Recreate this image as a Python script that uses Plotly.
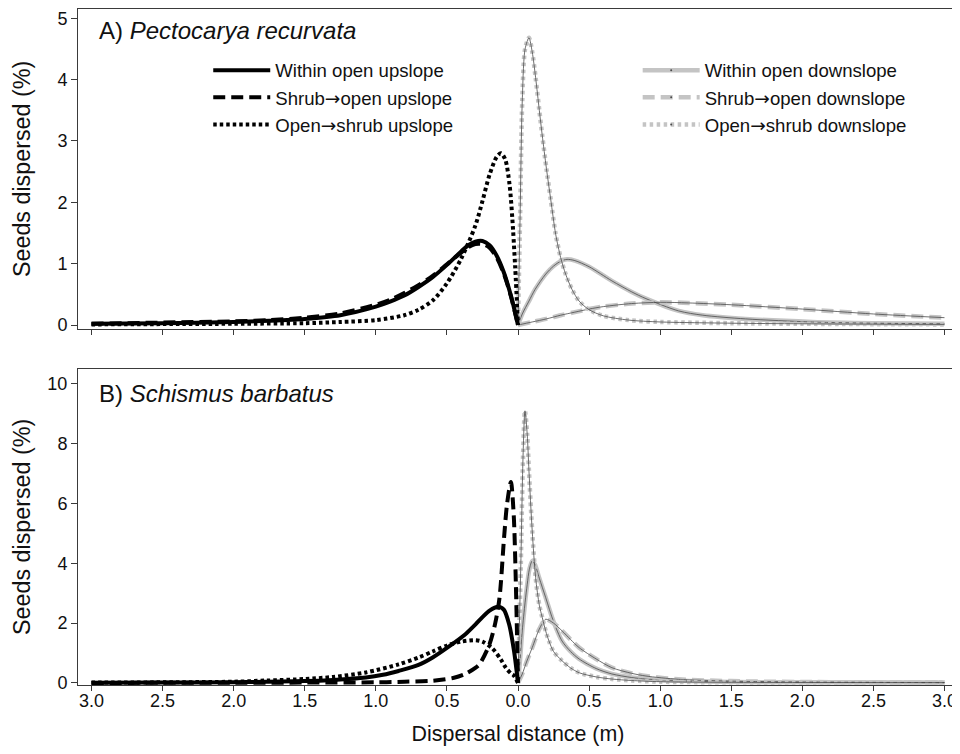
import plotly.graph_objects as go

# ---------------- data ----------------
# Panel A: Pectocarya recurvata  (upslope distances plotted as negative x)
A_within_up_x = [-3.0, -2.5, -2.0, -1.75, -1.5, -1.25, -1.0, -0.9, -0.8, -0.7, -0.6, -0.5, -0.4, -0.35, -0.3, -0.25, -0.2, -0.15, -0.1, -0.05, -0.02, 0.0]
A_within_up_y = [0.02, 0.03, 0.05, 0.07, 0.10, 0.16, 0.30, 0.38, 0.48, 0.62, 0.78, 0.98, 1.20, 1.30, 1.36, 1.37, 1.30, 1.13, 0.86, 0.48, 0.20, 0.0]
A_shrub_up_x = A_within_up_x
A_shrub_up_y = [0.02, 0.04, 0.06, 0.08, 0.12, 0.19, 0.33, 0.41, 0.52, 0.65, 0.80, 0.99, 1.18, 1.27, 1.32, 1.32, 1.26, 1.10, 0.84, 0.47, 0.19, 0.0]
A_open_up_x = [-3.0, -2.5, -2.0, -1.5, -1.25, -1.0, -0.8, -0.7, -0.6, -0.5, -0.4, -0.3, -0.25, -0.2, -0.15, -0.12, -0.09, -0.06, -0.04, -0.02, 0.0]
A_open_up_y = [0.01, 0.015, 0.02, 0.03, 0.05, 0.08, 0.16, 0.25, 0.40, 0.68, 1.08, 1.62, 2.02, 2.45, 2.74, 2.80, 2.70, 2.30, 1.74, 0.95, 0.0]

A_within_down_x = [0.0, 0.03, 0.077, 0.12, 0.195, 0.25, 0.3, 0.345, 0.4, 0.5, 0.66, 0.8, 0.9, 1.13, 1.3, 1.6, 2.07, 2.5, 3.0]
A_within_down_y = [0.0, 0.18, 0.39, 0.58, 0.83, 0.96, 1.04, 1.07, 1.05, 0.95, 0.72, 0.54, 0.43, 0.23, 0.16, 0.10, 0.05, 0.03, 0.02]
A_shrub_down_x = [0.0, 0.1, 0.2, 0.3, 0.4, 0.5, 0.6, 0.8, 1.0, 1.2, 1.5, 2.0, 2.5, 3.0]
A_shrub_down_y = [0.0, 0.05, 0.10, 0.16, 0.21, 0.26, 0.30, 0.35, 0.37, 0.36, 0.33, 0.26, 0.18, 0.12]
A_open_down_x = [0.0, 0.015, 0.03, 0.05, 0.077, 0.1, 0.124, 0.15, 0.17, 0.2, 0.23, 0.265, 0.3, 0.335, 0.38, 0.43, 0.5, 0.6, 0.78, 1.0, 1.5, 2.0, 3.0]
A_open_down_y = [0.0, 1.8, 3.65, 4.5, 4.68, 4.45, 4.03, 3.5, 3.1, 2.55, 2.05, 1.48, 1.10, 0.83, 0.58, 0.39, 0.25, 0.15, 0.08, 0.05, 0.03, 0.02, 0.01]

# Panel B: Schismus barbatus
B_within_up_x = [-3.0, -2.5, -2.0, -1.77, -1.5, -1.3, -1.07, -0.95, -0.84, -0.7, -0.6, -0.5, -0.37, -0.3, -0.25, -0.2, -0.14, -0.1, -0.063, -0.028, 0.0]
B_within_up_y = [0.005, 0.01, 0.02, 0.04, 0.06, 0.10, 0.18, 0.27, 0.40, 0.60, 0.85, 1.17, 1.63, 1.95, 2.20, 2.42, 2.55, 2.45, 1.97, 1.07, 0.0]
B_shrub_up_x = [-3.0, -2.0, -1.5, -1.0, -0.8, -0.6, -0.45, -0.37, -0.3, -0.27, -0.2, -0.16, -0.13, -0.098, -0.077, -0.05, -0.03, -0.015, 0.0]
B_shrub_up_y = [0.0, 0.005, 0.01, 0.02, 0.04, 0.07, 0.17, 0.30, 0.50, 0.63, 1.30, 2.00, 2.85, 4.86, 5.98, 6.72, 5.60, 3.30, 0.0]
B_open_up_x = [-3.0, -2.5, -2.0, -1.77, -1.5, -1.3, -1.07, -0.84, -0.7, -0.6, -0.5, -0.4, -0.3, -0.25, -0.18, -0.12, -0.085, -0.05, -0.03, 0.0]
B_open_up_y = [0.01, 0.02, 0.04, 0.08, 0.13, 0.20, 0.35, 0.62, 0.85, 1.05, 1.25, 1.38, 1.43, 1.38, 1.15, 0.78, 0.50, 0.32, 0.25, 0.0]

B_within_down_x = [0.0, 0.015, 0.03, 0.05, 0.065, 0.08, 0.1, 0.12, 0.15, 0.195, 0.25, 0.31, 0.37, 0.43, 0.55, 0.66, 0.8, 0.9, 1.2, 1.5, 2.0, 3.0]
B_within_down_y = [0.0, 0.8, 1.74, 2.7, 3.3, 3.8, 4.08, 3.95, 3.5, 2.85, 2.05, 1.40, 1.05, 0.80, 0.48, 0.30, 0.18, 0.13, 0.06, 0.03, 0.02, 0.01]
B_shrub_down_x = [0.0, 0.03, 0.06, 0.1, 0.15, 0.195, 0.25, 0.31, 0.37, 0.43, 0.55, 0.66, 0.8, 0.9, 1.13, 1.5, 2.0, 3.0]
B_shrub_down_y = [0.0, 0.30, 0.70, 1.18, 1.80, 2.13, 2.00, 1.74, 1.45, 1.18, 0.80, 0.51, 0.32, 0.23, 0.12, 0.06, 0.03, 0.01]
B_open_down_x = [0.0, 0.01, 0.02, 0.035, 0.049, 0.065, 0.077, 0.1, 0.124, 0.15, 0.171, 0.2, 0.218, 0.25, 0.31, 0.37, 0.43, 0.55, 0.66, 0.8, 1.0, 1.5, 3.0]
B_open_down_y = [0.0, 2.0, 4.0, 7.5, 9.1, 8.3, 7.1, 5.08, 3.52, 2.6, 2.18, 1.65, 1.40, 1.05, 0.74, 0.50, 0.34, 0.20, 0.13, 0.08, 0.04, 0.02, 0.01]

up_names = ["Within open upslope", "Shrub\u2192open upslope", "Open\u2192shrub upslope"]
down_names = ["Within open downslope", "Shrub\u2192open downslope", "Open\u2192shrub downslope"]
x_tick_vals = [-3.0, -2.5, -2.0, -1.5, -1.0, -0.5, 0.0, 0.5, 1.0, 1.5, 2.0, 2.5, 3.0]
x_tick_text = ["3.0", "2.5", "2.0", "1.5", "1.0", "0.5", "0.0", "0.5", "1.0", "1.5", "2.0", "2.5", "3.0"]
panel_labels = ["A) <i>Pectocarya recurvata</i>", "B) <i>Schismus barbatus</i>"]
y_title = "Seeds dispersed (%)"
x_title = "Dispersal distance (m)"

# ---------------- styling ----------------
FONT = "Liberation Sans, Arial, Helvetica, sans-serif"
BLACK = "#000000"
GREY = "#c4c4c4"
THIN = "#4a4a4a"
AX = "#3a3a3a"
TXT = "#111111"
up_dash = ["solid", "12px,6px", "3.5px,3px"]
down_dash = ["solid", "12px,6px", "3.5px,3.5px"]


def arrow_text(s):
    return s.replace("\u2192", "<span style='font-family:DejaVu Sans'>\u2192</span>")


fig = go.Figure()

panels = [
    ("x", "y", [(A_within_up_x, A_within_up_y), (A_shrub_up_x, A_shrub_up_y), (A_open_up_x, A_open_up_y)],
     [(A_within_down_x, A_within_down_y), (A_shrub_down_x, A_shrub_down_y), (A_open_down_x, A_open_down_y)]),
    ("x2", "y2", [(B_within_up_x, B_within_up_y), (B_shrub_up_x, B_shrub_up_y), (B_open_up_x, B_open_up_y)],
     [(B_within_down_x, B_within_down_y), (B_shrub_down_x, B_shrub_down_y), (B_open_down_x, B_open_down_y)]),
]

for xa, ya, ups, downs in panels:
    for (xs, ys), d in zip(downs, down_dash):
        fig.add_trace(go.Scatter(x=xs, y=ys, xaxis=xa, yaxis=ya, mode="lines", showlegend=False,
                                 line=dict(color=GREY, width=4.5, dash=d, shape="spline", smoothing=0.8),
                                 hoverinfo="skip"))
        fig.add_trace(go.Scatter(x=xs, y=ys, xaxis=xa, yaxis=ya, mode="lines", showlegend=False,
                                 line=dict(color=THIN, width=0.8, shape="spline", smoothing=0.8),
                                 hoverinfo="skip"))
    for (xs, ys), d in zip(ups, up_dash):
        fig.add_trace(go.Scatter(x=xs, y=ys, xaxis=xa, yaxis=ya, mode="lines", showlegend=False,
                                 line=dict(color=BLACK, width=4, dash=d, shape="spline", smoothing=0.8),
                                 hoverinfo="skip"))

# legend-only entries
for name, d in zip(up_names, up_dash):
    fig.add_trace(go.Scatter(x=[None], y=[None], xaxis="x", yaxis="y", mode="lines", name=arrow_text(name),
                             legend="legend", line=dict(color=BLACK, width=4, dash=d)))
for name, d in zip(down_names, down_dash):
    fig.add_trace(go.Scatter(x=[None], y=[None], xaxis="x", yaxis="y", mode="lines+markers", name=arrow_text(name),
                             legend="legend2", line=dict(color=GREY, width=4.5, dash=d),
                             marker=dict(color=THIN, size=2)))

XR = [-3.095, 3.095]
A_dom = [0.5266, 1.0]
B_dom = [0.0, 0.4675]
A_rng = [-0.065, 5.15]
B_rng = [-0.07, 10.5]

common_x = dict(range=XR, tickmode="array", tickvals=x_tick_vals, ticktext=x_tick_text,
                showgrid=False, zeroline=False, showline=True, linecolor=AX, linewidth=1,
                mirror=True, ticks="outside", ticklen=5, tickcolor=AX,
                tickfont=dict(family=FONT, size=18, color=TXT))
common_y = dict(showgrid=False, zeroline=False, showline=True, linecolor=AX, linewidth=1,
                mirror=True, ticks="outside", ticklen=6, tickcolor=AX,
                tickfont=dict(family=FONT, size=18, color=TXT))

free_common = dict(anchor="free", position=0.5, showticklabels=False, showgrid=False, zeroline=False,
                   tickcolor=AX, ticklen=4)

fig.update_layout(
    xaxis=dict(common_x, anchor="y", showticklabels=False),
    yaxis=dict(common_y, domain=A_dom, range=A_rng, dtick=1, tick0=0, anchor="x"),
    xaxis2=dict(common_x, anchor="y2", ticklabelstandoff=-6,
                title=dict(text=x_title, font=dict(family=FONT, size=21.4, color=TXT), standoff=16)),
    yaxis2=dict(common_y, domain=B_dom, range=B_rng, dtick=2, tick0=0, anchor="x2"),
    # vertical axis at x = 0 with crossing ticks
    yaxis3=dict(free_common, overlaying="y", range=A_rng, dtick=1, tick0=0,
                showline=True, linecolor=AX, linewidth=1, ticks="outside"),
    yaxis4=dict(free_common, overlaying="y", range=A_rng, dtick=1, tick0=0,
                showline=False, ticks="inside"),
    yaxis5=dict(free_common, overlaying="y2", range=B_rng, dtick=2, tick0=0,
                showline=True, linecolor=AX, linewidth=1, ticks="outside"),
    yaxis6=dict(free_common, overlaying="y2", range=B_rng, dtick=2, tick0=0,
                showline=False, ticks="inside"),
    legend=dict(x=0.148, y=0.937, xanchor="left", yanchor="top", bgcolor="rgba(0,0,0,0)",
                font=dict(family=FONT, size=18.6, color=TXT), itemwidth=57, tracegroupgap=0),
    legend2=dict(x=0.636, y=0.937, xanchor="left", yanchor="top", bgcolor="rgba(0,0,0,0)",
                 font=dict(family=FONT, size=18.6, color=TXT), itemwidth=57, tracegroupgap=0),
    # the page adds an 8px body margin; the right margin leaves room so the last tick label is not clipped
    width=960, height=746,
    margin=dict(l=70, r=10, t=1, b=69),
    plot_bgcolor="white", paper_bgcolor="white",
    font=dict(family=FONT, color=TXT),
)

for label, ylab in zip(panel_labels, [0.968, 0.4305]):
    fig.add_annotation(text=label, xref="paper", yref="paper", x=0.022, y=ylab,
                       xanchor="left", yanchor="middle", showarrow=False,
                       font=dict(family=FONT, size=24, color=TXT))

# y-axis titles, centred on each panel
for dom in (A_dom, B_dom):
    fig.add_annotation(text=y_title, xref="paper", yref="paper", x=-0.0636, y=(dom[0] + dom[1]) / 2,
                       xanchor="center", yanchor="middle", textangle=-90, showarrow=False,
                       font=dict(family=FONT, size=23.3, color=TXT))

fig.write_html("out.html")
